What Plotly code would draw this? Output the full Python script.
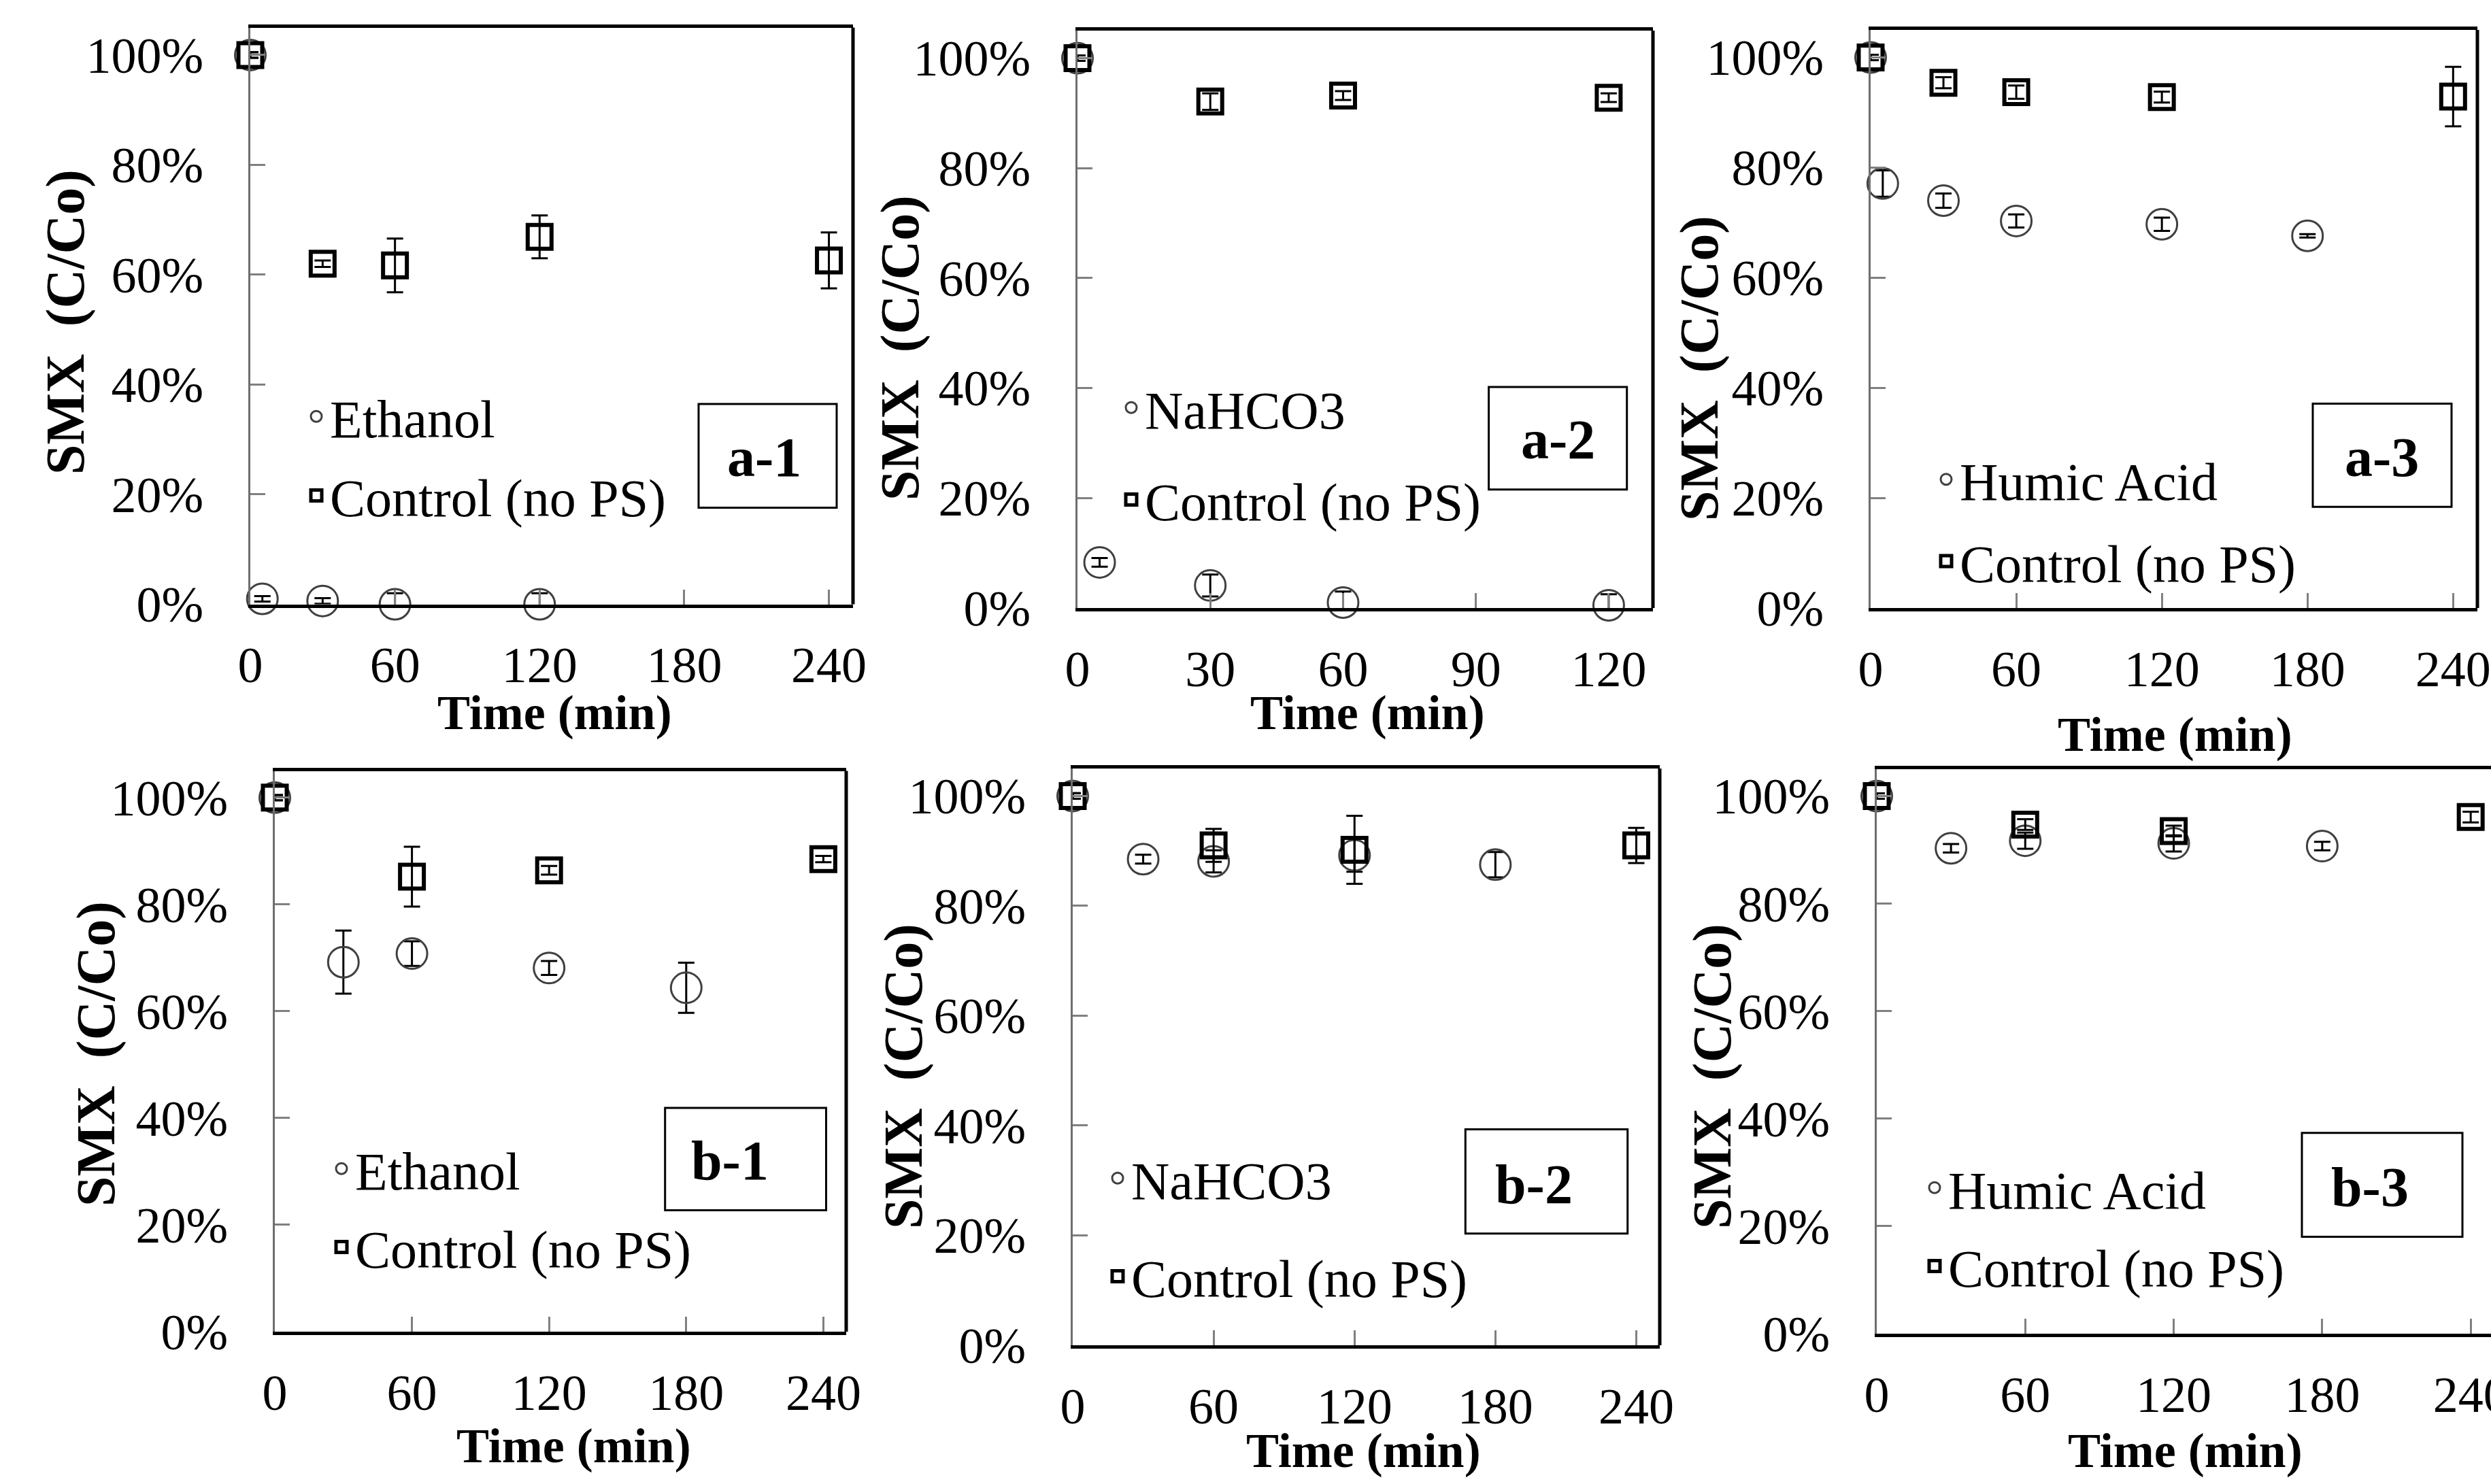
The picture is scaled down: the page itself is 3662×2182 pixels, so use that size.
import plotly.graph_objects as go

W, H = 3662, 2182

# ---------------- data (C/Co in %) ----------------
a1_t_trt = [0, 5, 30, 60, 120]
a1_v_trt = [100, 1.0, 0.6, 0.0, 0.0]
a1_e_trt = [0.5, 0.5, 0.5, 2.0, 2.0]
a1_t_ctl = [0, 30, 60, 120, 240]
a1_v_ctl = [100, 62.0, 61.7, 66.9, 62.6]
a1_e_ctl = [0.5, 0.6, 4.9, 3.9, 5.1]

a2_t_trt = [0, 5, 30, 60, 120]
a2_v_trt = [100, 8.3, 4.1, 1.0, 0.5]
a2_e_trt = [0.5, 0.8, 2.0, 2.0, 2.0]
a2_t_ctl = [0, 30, 60, 120]
a2_v_ctl = [100, 92.1, 93.2, 92.8]
a2_e_ctl = [0.5, 1.5, 0.8, 0.8]

a3_t_trt = [0, 5, 30, 60, 120, 180]
a3_v_trt = [100, 77.1, 74.0, 70.3, 69.7, 67.6]
a3_e_trt = [0.5, 2.4, 1.3, 1.2, 1.2, 0.3]
a3_t_ctl = [0, 30, 60, 120, 240]
a3_v_ctl = [100, 95.4, 93.7, 92.8, 92.9]
a3_e_ctl = [0.5, 1.0, 1.2, 1.0, 5.4]

b1_t_trt = [0, 30, 60, 120, 180]
b1_v_trt = [100, 69.2, 70.8, 68.1, 64.4]
b1_e_trt = [0.5, 5.9, 2.3, 1.3, 4.7]
b1_t_ctl = [0, 60, 120, 240]
b1_v_ctl = [100, 85.2, 86.4, 88.5]
b1_e_ctl = [0.5, 5.6, 0.8, 0.6]

b2_t_trt = [0, 30, 60, 120, 180]
b2_v_trt = [100, 88.5, 88.1, 89.2, 87.5]
b2_e_trt = [0.5, 0.8, 2.0, 3.0, 2.3]
b2_t_ctl = [0, 60, 120, 240]
b2_v_ctl = [100, 91.0, 90.2, 91.0]
b2_e_ctl = [0.5, 3.0, 6.2, 3.2]

b3_t_trt = [0, 30, 60, 120, 180]
b3_v_trt = [100, 90.3, 91.7, 91.2, 90.7]
b3_e_trt = [0.5, 0.8, 1.5, 1.5, 0.8]
b3_t_ctl = [0, 60, 120, 240]
b3_v_ctl = [100, 94.7, 93.5, 96.1]
b3_e_ctl = [0.5, 1.0, 1.0, 1.0]

trt_names = ["Ethanol", "NaHCO3", "Humic Acid", "Ethanol", "NaHCO3", "Humic Acid"]
ctl_name = "Control (no PS)"
panel_labels = ["a-1", "a-2", "a-3", "b-1", "b-2", "b-3"]
y_ticks = [0, 20, 40, 60, 80, 100]
y_tick_labels = ["0%", "20%", "40%", "60%", "80%", "100%"]
x_ticks_240 = [0, 60, 120, 180, 240]
x_ticks_120 = [0, 30, 60, 90, 120]
x_title = "Time (min)"
y_title = "SMX\u00a0 (C/Co)"

data = [
    (a1_t_trt, a1_v_trt, a1_e_trt, a1_t_ctl, a1_v_ctl, a1_e_ctl),
    (a2_t_trt, a2_v_trt, a2_e_trt, a2_t_ctl, a2_v_ctl, a2_e_ctl),
    (a3_t_trt, a3_v_trt, a3_e_trt, a3_t_ctl, a3_v_ctl, a3_e_ctl),
    (b1_t_trt, b1_v_trt, b1_e_trt, b1_t_ctl, b1_v_ctl, b1_e_ctl),
    (b2_t_trt, b2_v_trt, b2_e_trt, b2_t_ctl, b2_v_ctl, b2_e_ctl),
    (b3_t_trt, b3_v_trt, b3_e_trt, b3_t_ctl, b3_v_ctl, b3_e_ctl),
]

# ---------------- layout geometry (pixels) ----------------
geom = [
    (368, 1254, 40.5, 888.5, 250, x_ticks_240, True),
    (1584, 2430, 45, 894, 130, x_ticks_120, True),
    (2750, 3642, 44, 894, 250, x_ticks_240, True),
    (404, 1244, 1133.6, 1958, 250, x_ticks_240, True),
    (1577, 2440, 1130, 1978, 250, x_ticks_240, True),
    (2759, 3662, 1131, 1961, 248.2, x_ticks_240, False),
]
leg_geom = [
    (490, 617, 12), (1688, 604, 31), (2886, 709.5, 16),
    (527, 1723, 11), (1668, 1737, 40), (2869, 1751, 11),
]
lab_geom = [
    (1027, 594, 1230, 746.5, 1123, 673),
    (2188.6, 568.9, 2391.7, 719.8, 2290, 647),
    (3400, 593.6, 3604, 745.2, 3501, 672),
    (977.7, 1629, 1214.5, 1779.5, 1073, 1706),
    (2154.3, 1660.6, 2392.7, 1813.8, 2255, 1741),
    (3384, 1665.7, 3620, 1818.5, 3484, 1745),
]
xt_pos = [(815, 1048), (2010, 1048), (3197, 1080), (843, 2126), (2004, 2133), (3212, 2133)]
yt_pos = [(96, 474), (1324, 512), (2498, 542), (141, 1550), (1328, 1583), (2517, 1583)]

def px(x):
    return x / W

def py(y):
    return 1 - y / H

FONT = "Liberation Serif"
TICK_GRAY = "#808080"

fig = go.Figure()
layout = dict(
    width=W, height=H,
    margin=dict(l=0, r=0, t=0, b=0, autoexpand=False),
    paper_bgcolor="white", plot_bgcolor="white",
    font=dict(family=FONT, color="black"),
    shapes=[], annotations=[],
)

for i in range(6):
    n = i + 1
    sfx = "" if n == 1 else str(n)
    xa, ya = "x" + sfx, "y" + sfx
    legname = "legend" + sfx
    t_trt, v_trt, e_trt, t_ctl, v_ctl, e_ctl = data[i]
    x0, x1, yt, yb, xmax, xticks, rframe = geom[i]

    fig.add_trace(go.Scatter(
        x=t_trt, y=v_trt, mode="markers", name=trt_names[i],
        error_y=dict(type="data", array=e_trt, color="black", thickness=3, width=12),
        marker=dict(symbol="circle", size=45, color="rgba(0,0,0,0)",
                    line=dict(color="#404040", width=3)),
        xaxis=xa, yaxis=ya, legend=legname, legendgroup=f"trt{n}", cliponaxis=False,
    ))
    fig.add_trace(go.Scatter(
        x=t_ctl, y=v_ctl, mode="markers", name=ctl_name,
        error_y=dict(type="data", array=e_ctl, color="black", thickness=3, width=12),
        marker=dict(symbol="square", size=35, color="rgba(0,0,0,0)",
                    line=dict(color="black", width=6)),
        xaxis=xa, yaxis=ya, legend=legname, legendgroup=f"ctl{n}", cliponaxis=False,
    ))

    xdom = [px(x0), px(x1)]
    ydom = [py(yb), py(yt)]
    common_x = dict(range=[0, xmax], tickvals=xticks, showgrid=False, zeroline=False,
                    ticklen=22, tickwidth=3, tickcolor=TICK_GRAY)
    common_y = dict(range=[0, 105], tickvals=y_ticks, showgrid=False, zeroline=False,
                    ticklen=22, tickwidth=3, tickcolor=TICK_GRAY)
    # main axes: inward half of the cross ticks + labels
    layout["xaxis" + sfx] = dict(
        domain=xdom, anchor=ya, ticks="inside", showline=True, linecolor="black",
        linewidth=5, mirror=True, ticklabelstandoff=21, ticklabeloverflow="allow",
        tickfont=dict(family=FONT, size=74, color="black"), **common_x)
    layout["yaxis" + sfx] = dict(
        domain=ydom, anchor=xa, ticks="inside", showline=True, linecolor="#6e6e6e",
        linewidth=3, ticktext=y_tick_labels, ticklabelstandoff=51,
        tickfont=dict(family=FONT, size=74, color="black"), **common_y)
    # overlay axes: outward half of the cross ticks
    o = str(n + 6)
    layout["xaxis" + o] = dict(overlaying=xa, anchor="y" + o, ticks="outside",
                               showticklabels=False, showline=False, **common_x)
    layout["yaxis" + o] = dict(overlaying=ya, anchor="x" + o, ticks="outside",
                               showticklabels=False, showline=False, **common_y)

    if rframe:
        layout["shapes"].append(dict(type="line", xref=f"{xa} domain", yref=f"{ya} domain",
                                     x0=1, x1=1, y0=0, y1=1,
                                     line=dict(color="black", width=5)))

    lx, lcy, lgap = leg_geom[i]
    layout[legname] = dict(
        x=px(lx - 45), y=py(lcy - 62), xanchor="left", yanchor="top",
        bgcolor="rgba(0,0,0,0)", borderwidth=0, tracegroupgap=lgap,
        font=dict(family=FONT, size=78, color="black"),
    )

    bx0, by0, bx1, by1, tcx, tcy = lab_geom[i]
    layout["shapes"].append(dict(type="rect", xref="paper", yref="paper",
                                 x0=px(bx0), x1=px(bx1), y0=py(by1), y1=py(by0),
                                 line=dict(color="black", width=3)))
    layout["annotations"].append(dict(
        text=f"<b>{panel_labels[i]}</b>", x=px(tcx), y=py(tcy), xref="paper", yref="paper",
        showarrow=False, xanchor="center", yanchor="middle",
        font=dict(family=FONT, size=82, color="black")))

    tx, ty = xt_pos[i]
    layout["annotations"].append(dict(
        text=f"<b>{x_title}</b>", x=px(tx), y=py(ty), xref="paper", yref="paper",
        showarrow=False, xanchor="center", yanchor="middle",
        font=dict(family=FONT, size=72, color="black")))
    tx, ty = yt_pos[i]
    layout["annotations"].append(dict(
        text=f"<b>{y_title}</b>", x=px(tx), y=py(ty), xref="paper", yref="paper",
        showarrow=False, xanchor="center", yanchor="middle", textangle=-90,
        font=dict(family=FONT, size=80, color="black")))

fig.update_layout(**layout)
fig.write_html("out.html")
